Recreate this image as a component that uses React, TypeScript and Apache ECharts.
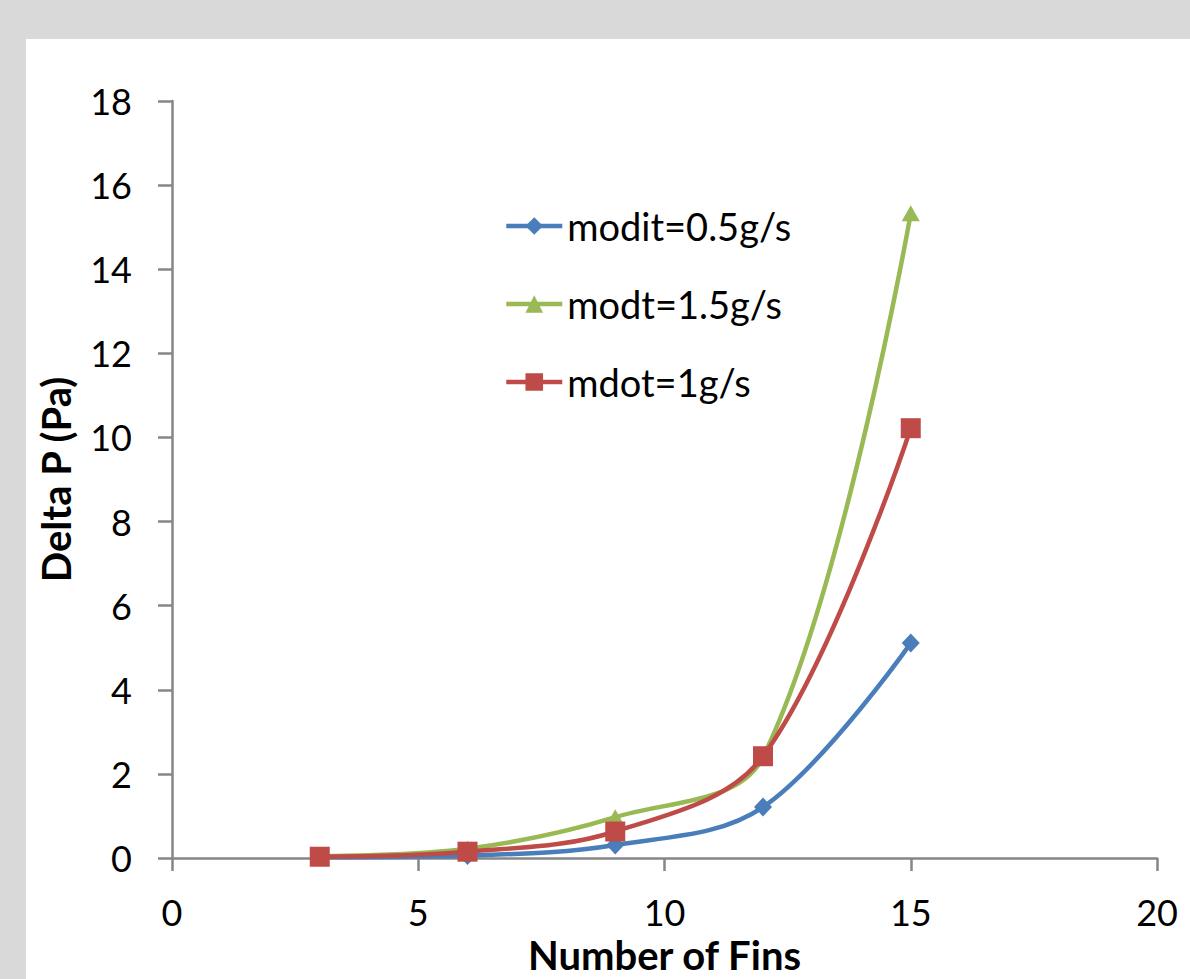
import React, { useEffect, useRef } from "react";
import * as echarts from "echarts";

const finCounts = [3, 6, 9, 12, 15];
const seriesNames = ["modit=0.5g/s", "modt=1.5g/s", "mdot=1g/s"];
const blueValues = [0.02, 0.06, 0.31, 1.21, 5.11];
const greenValues = [0.04, 0.22, 0.97, 2.4, 15.33];
const redValues = [0.03, 0.15, 0.63, 2.42, 10.22];
const xTicks = [0, 5, 10, 15, 20];
const yTicks = [0, 2, 4, 6, 8, 10, 12, 14, 16, 18];

const FONT = "Lato, 'Open Sans', sans-serif";

export default function App() {
  const ref = useRef<HTMLDivElement>(null);
  useEffect(() => {
    document.body.style.margin = "0";
    const chart = echarts.init(ref.current!, null, { renderer: "svg" });
    const mk = (vals: number[]) => finCounts.map((x, i) => [x, vals[i]]);
    const axisLine = { show: true, lineStyle: { color: "#868686", width: 2.5 } };
    chart.setOption({
      animation: false,
      backgroundColor: "#d9d9d9",
      graphic: [
        {
          type: "rect",
          shape: { x: 26, y: 39, width: 1164, height: 940 },
          style: { fill: "#ffffff" },
          z: -10,
          silent: true,
        },
      ],
      grid: {
        left: 172,
        right: 33,
        top: 101,
        bottom: 121,
        containLabel: false,
        outerBoundsMode: "none",
      },
      legend: {
        orient: "vertical",
        left: 504,
        top: 207,
        padding: 0,
        itemWidth: 56,
        itemHeight: 22,
        itemGap: 40,
        textStyle: { fontFamily: FONT, fontSize: 38, color: "#000" },
        lineStyle: { width: 4.5 },
        data: seriesNames,
      },
      xAxis: {
        type: "value",
        min: 0,
        max: 20,
        interval: 5,
        axisLine,
        axisTick: { show: true, length: 13, inside: false, lineStyle: { color: "#868686", width: 2.5 } },
        splitLine: { show: false },
        axisLabel: {
          fontFamily: FONT,
          fontSize: 36,
          color: "#000",
          margin: 36,
          formatter: (v: number) => (xTicks.includes(v) ? String(v) : ""),
        },
        name: "Number of Fins",
        nameLocation: "middle",
        nameGap: 75,
        nameTextStyle: { fontFamily: FONT, fontSize: 40, lineHeight: 40, fontWeight: "bold", color: "#000" },
      },
      yAxis: {
        type: "value",
        min: 0,
        max: 18,
        interval: 2,
        axisLine,
        axisTick: { show: true, length: 14, inside: false, lineStyle: { color: "#868686", width: 2.5 } },
        splitLine: { show: false },
        axisLabel: {
          fontFamily: FONT,
          fontSize: 36,
          color: "#000",
          margin: 40,
          formatter: (v: number) => (yTicks.includes(v) ? String(v) : ""),
        },
        name: "Delta P (Pa)",
        nameLocation: "middle",
        nameGap: 96,
        nameRotate: 90,
        nameTextStyle: { fontFamily: FONT, fontSize: 40, fontWeight: "bold", color: "#000" },
      },
      series: [
        {
          name: seriesNames[0],
          type: "line",
          data: mk(blueValues),
          smooth: 0.35,
          symbol: "diamond",
          symbolSize: [18, 19],
          lineStyle: { width: 4.5, color: "#4a7ebb" },
          itemStyle: { color: "#4a7ebb" },
        },
        {
          name: seriesNames[1],
          type: "line",
          data: mk(greenValues),
          smooth: 0.35,
          symbol: "triangle",
          symbolSize: [18, 16],
          lineStyle: { width: 4.5, color: "#98b954" },
          itemStyle: { color: "#98b954" },
        },
        {
          name: seriesNames[2],
          type: "line",
          data: mk(redValues),
          smooth: 0.35,
          symbol: "rect",
          symbolSize: [20, 20],
          lineStyle: { width: 4.5, color: "#be4b48" },
          itemStyle: { color: "#be4b48" },
        },
      ],
    });
    return () => chart.dispose();
  }, []);
  return <div ref={ref} style={{ width: 1190, height: 979 }} />;
}
